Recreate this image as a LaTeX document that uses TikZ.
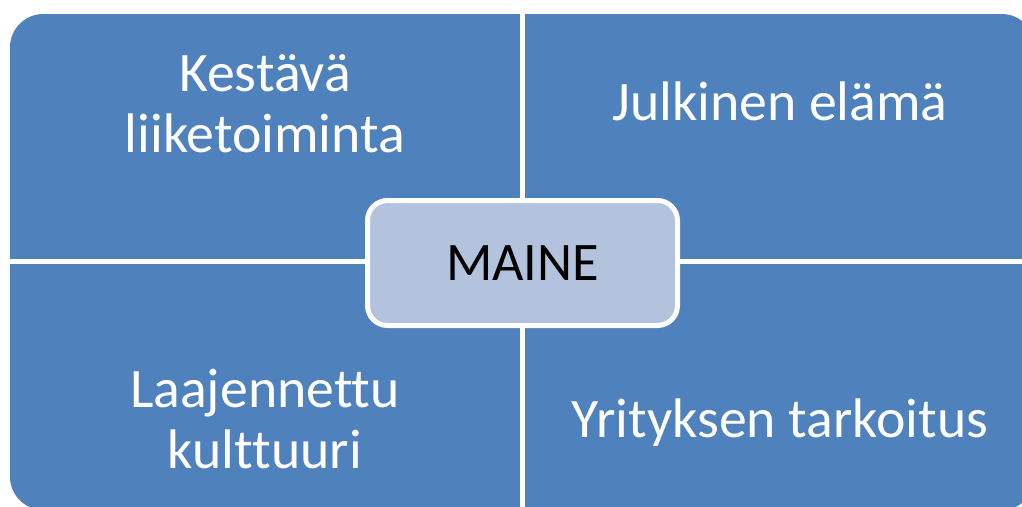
\documentclass[tikz,border=0pt]{standalone}
\usepackage{fontspec}
\setmainfont{Carlito}[Ligatures=NoCommon]
\usetikzlibrary{positioning}
\definecolor{quadblue}{RGB}{79,129,189}
\definecolor{hubblue}{RGB}{179,194,221}
\tikzstyle{quadrant}=[
  fill=quadblue,
  rounded corners=25pt,
]
\tikzstyle{divider}=[
  draw=white,
  line width=3.75pt,
]
\tikzstyle{quadtext}=[
  text=white,
  font={\fontsize{41.8}{45.7}\selectfont},
  align=center,
  inner sep=0pt,
  anchor=base,
]
\tikzstyle{hub}=[
  draw=white,
  line width=3.75pt,
  fill=hubblue,
  rounded corners=15pt,
  minimum width=232.5pt,
  minimum height=93.75pt,
  font={\fontsize{40.7}{45.7}\selectfont},
  text=black,
]
\tikzset{
  x=0.75pt,
  y=-0.75pt,
}
\begin{document}
\begin{tikzpicture}
  \useasboundingbox (0,0) rectangle (1022,507);
  \clip (0,0) rectangle (1022,507);
  \fill [quadrant] (10,14) rectangle (1035,510);
  \draw [divider] (522.5,0) -- (522.5,520);
  \draw [divider] (0,261.5) -- (1040,261.5);
  %%
  \node (hub) [hub] at (522.5,263) {MAINE};
  %%
  \node (kestava) [quadtext] at (265,152) {Kestävä\\liiketoiminta};
  \node (julkinen) [quadtext] at (780,120) {Julkinen elämä};
  \node (laajennettu) [quadtext] at (265,468) {Laajennettu\\kulttuuri};
  \node (yritys) [quadtext] at (780,437) {Yrityksen tarkoitus};
\end{tikzpicture}
\end{document}
